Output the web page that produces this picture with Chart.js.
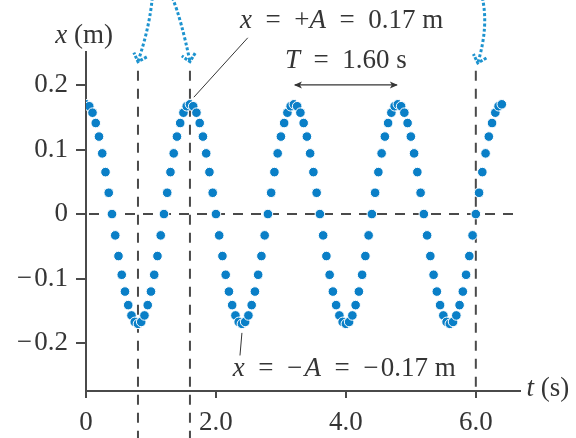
<!doctype html>
<html>

<head>
	<title>Simple harmonic motion</title>
	<script src="https://cdn.jsdelivr.net/npm/chart.js@4"></script>
	<style>
		html, body { margin: 0; background: #fff; }
		.canvas-holder { width: 576px; height: 438px; }
	</style>
</head>

<body>
	<div class="canvas-holder">
		<canvas id="chart-area" width="576" height="438"></canvas>
	</div>

	<script>
		// sampled every 0.05 s
		var times = [
			0, 0.05, 0.1, 0.15, 0.2, 0.25, 0.3, 0.35, 0.4, 0.45, 0.5, 0.55, 0.6, 0.65, 0.7, 0.75, 0.8, 0.85, 0.9, 0.95,
			1, 1.05, 1.1, 1.15, 1.2, 1.25, 1.3, 1.35, 1.4, 1.45, 1.5, 1.55, 1.6, 1.65, 1.7, 1.75, 1.8, 1.85, 1.9, 1.95,
			2, 2.05, 2.1, 2.15, 2.2, 2.25, 2.3, 2.35, 2.4, 2.45, 2.5, 2.55, 2.6, 2.65, 2.7, 2.75, 2.8, 2.85, 2.9, 2.95,
			3, 3.05, 3.1, 3.15, 3.2, 3.25, 3.3, 3.35, 3.4, 3.45, 3.5, 3.55, 3.6, 3.65, 3.7, 3.75, 3.8, 3.85, 3.9, 3.95,
			4, 4.05, 4.1, 4.15, 4.2, 4.25, 4.3, 4.35, 4.4, 4.45, 4.5, 4.55, 4.6, 4.65, 4.7, 4.75, 4.8, 4.85, 4.9, 4.95,
			5, 5.05, 5.1, 5.15, 5.2, 5.25, 5.3, 5.35, 5.4, 5.45, 5.5, 5.55, 5.6, 5.65, 5.7, 5.75, 5.8, 5.85, 5.9, 5.95,
			6, 6.05, 6.1, 6.15, 6.2, 6.25, 6.3, 6.35, 6.4,
		];

		var positions = [
			0.170, 0.167, 0.157, 0.141, 0.120, 0.094, 0.065, 0.033, 0, -0.033, -0.065, -0.094, -0.120, -0.141, -0.157, -0.167,
			-0.170, -0.167, -0.157, -0.141, -0.120, -0.094, -0.065, -0.033, 0, 0.033, 0.065, 0.094, 0.120, 0.141, 0.157, 0.167,
			0.170, 0.167, 0.157, 0.141, 0.120, 0.094, 0.065, 0.033, 0, -0.033, -0.065, -0.094, -0.120, -0.141, -0.157, -0.167,
			-0.170, -0.167, -0.157, -0.141, -0.120, -0.094, -0.065, -0.033, 0, 0.033, 0.065, 0.094, 0.120, 0.141, 0.157, 0.167,
			0.170, 0.167, 0.157, 0.141, 0.120, 0.094, 0.065, 0.033, 0, -0.033, -0.065, -0.094, -0.120, -0.141, -0.157, -0.167,
			-0.170, -0.167, -0.157, -0.141, -0.120, -0.094, -0.065, -0.033, 0, 0.033, 0.065, 0.094, 0.120, 0.141, 0.157, 0.167,
			0.170, 0.167, 0.157, 0.141, 0.120, 0.094, 0.065, 0.033, 0, -0.033, -0.065, -0.094, -0.120, -0.141, -0.157, -0.167,
			-0.170, -0.167, -0.157, -0.141, -0.120, -0.094, -0.065, -0.033, 0, 0.033, 0.065, 0.094, 0.120, 0.141, 0.157, 0.167,
			0.170,
		];

		var xTicks = [0, 2, 4, 6];
		var xTickLabels = ['0', '2.0', '4.0', '6.0'];
		var yTicks = [0.2, 0.1, 0, -0.1, -0.2];
		var yTickLabels = ['0.2', '0.1', '0', '\u2212\u200a0.1', '\u2212\u200a0.2'];

		// dashed verticals: first trough, first peak after start, a zero crossing
		var markTimes = [0.8, 1.6, 6.0];
		var amplitude = 0.17;
		var period = 1.60;
		var periodFrom = 3.2;

		var ink = '#353535';
		var dash = '#4a4a4a';
		var dotBlue = '#0a7fc7';
		var arrowBlue = '#1d93cf';
		var serif = '"Liberation Serif", "Times New Roman", serif';
		var EQ = '\u2002=\u2002';
		var MINUS = '\u2212\u200a';

		// draws a run of roman / italic pieces starting at x
		function richText(ctx, parts, x, y, size, align) {
			var setFont = function (p) {
				ctx.font = (p[1] ? 'italic ' : '') + size + 'px ' + serif;
			};
			var w = 0;
			parts.forEach(function (p) { setFont(p); w += ctx.measureText(p[0]).width; });
			var cx = align === 'center' ? x - w / 2 : x;
			ctx.textAlign = 'left';
			ctx.textBaseline = 'alphabetic';
			parts.forEach(function (p) {
				setFont(p);
				ctx.fillText(p[0], cx, y);
				cx += ctx.measureText(p[0]).width;
			});
		}

		function line(ctx, x1, y1, x2, y2) {
			ctx.beginPath();
			ctx.moveTo(x1, y1);
			ctx.lineTo(x2, y2);
			ctx.stroke();
		}

		function arrowHead(ctx, x, y, angle, len, spread) {
			ctx.beginPath();
			ctx.moveTo(x + len * Math.cos(angle + spread), y + len * Math.sin(angle + spread));
			ctx.lineTo(x, y);
			ctx.lineTo(x + len * Math.cos(angle - spread), y + len * Math.sin(angle - spread));
			ctx.stroke();
		}

		var guides = {
			id: 'guides',
			beforeDatasetsDraw: function (chart) {
				var ctx = chart.ctx;
				var sx = chart.scales.x, sy = chart.scales.y;
				var area = chart.chartArea;
				ctx.save();
				ctx.strokeStyle = dash;
				ctx.lineWidth = 2;
				ctx.setLineDash([10, 8]);
				// zero line
				line(ctx, area.left + 3, sy.getPixelForValue(0), area.right, sy.getPixelForValue(0));
				// verticals
				markTimes.forEach(function (t, i) {
					var px = sx.getPixelForValue(t);
					var bottom = i < 2 ? chart.height : area.bottom - 2;
					line(ctx, px, sy.getPixelForValue(0.222), px, bottom);
				});
				ctx.restore();
			},
			afterDatasetsDraw: function (chart) {
				var ctx = chart.ctx;
				var sx = chart.scales.x, sy = chart.scales.y;
				var X = function (t) { return sx.getPixelForValue(t); };
				var Y = function (v) { return sy.getPixelForValue(v); };
				ctx.save();
				ctx.fillStyle = ink;
				ctx.strokeStyle = ink;

				// axis titles
				richText(ctx, [['x', true], ['\u2005(m)', false]], X(-0.03), Y(0.265), 27, 'center');
				richText(ctx, [['t', true], ['\u2005(s)', false]], X(6.78), Y(-0.281), 27, 'left');

				// +A label and leader
				richText(ctx, [['x', true], [EQ + '+', false], ['A', true], [EQ + amplitude.toFixed(2) + ' m', false]],
					X(2.37), Y(0.288), 27, 'left');
				ctx.lineWidth = 1;
				line(ctx, X(2.49), Y(0.273), X(1.66), Y(0.181));

				// -A label and leader
				richText(ctx, [['x', true], [EQ + MINUS, false], ['A', true], [EQ + MINUS + amplitude.toFixed(2) + ' m', false]],
					X(2.26), Y(-0.251), 27, 'left');
				line(ctx, X(2.4), Y(-0.184), X(2.37), Y(-0.219));

				// period label with double arrow between two peaks
				var pa = X(periodFrom), pb = X(periodFrom + period), py = Y(0.2);
				richText(ctx, [['T', true], [EQ + period.toFixed(2) + ' s', false]], (pa + pb) / 2, Y(0.226), 27, 'center');
				ctx.lineWidth = 1.2;
				line(ctx, pa + 1, py, pb - 1, py);
				ctx.fillStyle = ink;
				[[pa, 1], [pb, -1]].forEach(function (e) {
					ctx.beginPath();
					ctx.moveTo(e[0], py);
					ctx.lineTo(e[0] + e[1] * 8, py - 3.5);
					ctx.lineTo(e[0] + e[1] * 6, py);
					ctx.lineTo(e[0] + e[1] * 8, py + 3.5);
					ctx.closePath();
					ctx.fill();
				});

				// dotted curved pointers into the vertical guides
				ctx.strokeStyle = arrowBlue;
				ctx.lineWidth = 3;
				ctx.setLineDash([3, 2.2]);
				var curves = [
					[[1.02, 0.335], [0.98, 0.29], [0.8, 0.236]],
					[[1.33, 0.335], [1.47, 0.3], [1.6, 0.236]],
					[[6.1, 0.335], [6.2, 0.29], [6.03, 0.234]],
				];
				curves.forEach(function (c) {
					ctx.beginPath();
					ctx.moveTo(X(c[0][0]), Y(c[0][1]));
					ctx.quadraticCurveTo(X(c[1][0]), Y(c[1][1]), X(c[2][0]), Y(c[2][1]));
					ctx.stroke();
				});
				ctx.setLineDash([3, 1.5]);
				ctx.lineWidth = 3;
				curves.forEach(function (c) {
					var ex = X(c[2][0]), ey = Y(c[2][1]);
					var ang = Math.atan2(Y(c[1][1]) - ey, X(c[1][0]) - ex);
					arrowHead(ctx, ex, ey, ang, 10, 0.75);
				});
				ctx.restore();
			},
		};

		var ctx = document.getElementById('chart-area').getContext('2d');

		var chart = new Chart(ctx, {
			type: 'scatter',
			data: {
				datasets: [{
					data: times.map(function (t, i) { return { x: t, y: positions[i] }; }),
					backgroundColor: dotBlue,
					borderColor: '#fff',
					borderWidth: 1,
					pointRadius: 4.8,
				}],
			},
			options: {
				responsive: false,
				animation: false,
				devicePixelRatio: 1,
				layout: { padding: { top: 52, right: 56, left: 0, bottom: 0 } },
				plugins: { legend: { display: false }, tooltip: { enabled: false } },
				scales: {
					x: {
						type: 'linear',
						min: 0,
						max: 6.68,
						afterBuildTicks: function (s) { s.ticks = xTicks.map(function (v) { return { value: v }; }); },
						afterFit: function (s) { s.height = 47; },
						border: { color: dash, width: 2 },
						grid: { drawOnChartArea: false, drawTicks: true, tickLength: 7, color: dash, lineWidth: 2 },
						ticks: {
							color: ink,
							font: { family: serif, size: 27 },
							padding: 9,
							maxRotation: 0,
							autoSkip: false,
							callback: function (v) { return xTickLabels[xTicks.indexOf(v)]; },
						},
					},
					y: {
						min: -0.274,
						max: 0.251,
						afterBuildTicks: function (s) { s.ticks = yTicks.map(function (v) { return { value: v }; }); },
						afterFit: function (s) { s.width = 86; },
						border: { color: dash, width: 2 },
						grid: { drawOnChartArea: false, drawTicks: true, tickLength: 10, color: dash, lineWidth: 2 },
						ticks: {
							color: ink,
							font: { family: serif, size: 27 },
							padding: 8,
							autoSkip: false,
							callback: function (v, i) { return yTickLabels[i]; },
						},
					},
				},
			},
			plugins: [guides],
		});
	</script>
</body>

</html>
